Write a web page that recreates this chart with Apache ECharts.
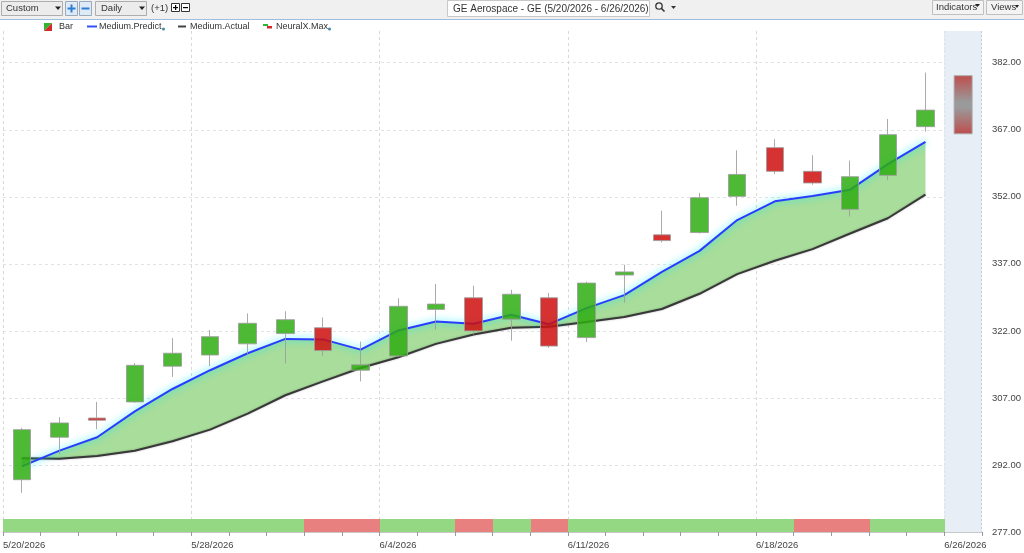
<!DOCTYPE html>
<html><head><meta charset="utf-8">
<script src="https://cdn.jsdelivr.net/npm/echarts@6/dist/echarts.min.js"></script>
<style>html,body{margin:0;padding:0;background:#fff}#c{width:1024px;height:553px}</style>
</head><body><div id="c"></div>
<script>
// ---------------- DATA ----------------
const dates = ['5/20/2026','5/21/2026','5/22/2026','5/26/2026','5/27/2026','5/28/2026','5/29/2026','6/1/2026','6/2/2026','6/3/2026','6/4/2026','6/5/2026','6/8/2026','6/9/2026','6/10/2026','6/11/2026','6/12/2026','6/15/2026','6/16/2026','6/17/2026','6/18/2026','6/22/2026','6/23/2026','6/24/2026','6/25/2026','6/26/2026'];
const weekLabels = ['5/20/2026','5/28/2026','6/4/2026','6/11/2026','6/18/2026','6/26/2026'];
const opens  = [288.7,298.2,302.5,306.1,314.1,316.6,319.1,321.4,322.7,313.2,316.4,326.8,329.4,324.6,329.4,320.5,334.5,343.5,344.0,352.1,363.0,357.7,349.2,356.8,367.7,null];
const closes = [299.9,301.4,302.0,314.3,317.0,320.7,323.7,324.5,317.6,314.4,327.5,328.0,322.0,330.2,318.6,332.7,335.2,342.2,351.8,357.0,357.7,355.1,356.5,365.9,371.4,null];
const lows   = [285.8,294.4,300.0,305.9,311.7,314.1,316.5,314.7,316.4,310.7,316.2,322.3,321.2,319.8,318.2,319.5,328.3,341.8,343.8,350.0,357.1,354.7,347.6,355.7,366.6,null];
const highs  = [300.3,302.7,306.1,314.8,320.4,322.2,325.9,326.4,325.0,319.6,329.3,332.5,332.1,331.2,330.5,333.0,336.8,348.9,352.9,362.4,364.9,361.3,360.1,369.4,379.8,null];
const predict = [291.7,295.2,298.2,304.0,309.0,313.2,317.0,320.2,320.1,317.8,322.1,324.1,323.6,325.6,323.5,327.1,330.0,335.2,339.9,346.8,351.0,352.2,353.6,359.3,364.3,null];
const actual  = [293.5,293.4,294.0,295.2,297.3,299.9,303.5,307.6,310.7,313.7,316.1,319.1,321.2,322.7,322.9,324.0,325.1,326.9,330.3,334.7,337.7,340.3,343.8,347.2,352.5,null];
const neuralMaxLow  = [null,null,null,null,null,null,null,null,null,null,null,null,null,null,null,null,null,null,null,null,null,null,null,null,null,366.1];
const neuralMaxHigh = [null,null,null,null,null,null,null,null,null,null,null,null,null,null,null,null,null,null,null,null,null,null,null,null,null,379.1];
const signal = ['up','up','up','up','up','up','up','up','down','down','up','up','down','up','down','up','up','up','up','up','up','down','down','up','up',null];
const forecastDates = ['6/26/2026'];
const yTicks = [277,292,307,322,337,352,367,382];
const yMax = 389.1;

// ---------------- STYLE ----------------
const FONT = 'Liberation Sans';
const TXT = '#333';
const GREEN = '#2ead10', RED = '#d00e0e';
const STRIP_UP = '#94d883', STRIP_DOWN = '#e88080';

const chart = echarts.init(document.getElementById('c'), null, {renderer:'canvas'});

const candleData = dates.map((d,i)=> opens[i]==null ? '-' : [opens[i],closes[i],lows[i],highs[i]]);
const diff = dates.map((d,i)=> predict[i]==null ? '-' : +(predict[i]-actual[i]).toFixed(2));
const stripData = [];
signal.forEach((s,i)=>{ if(s!=null) stripData.push([i, s==='up'?1:-1]); });
const neuralData = [];
dates.forEach((d,i)=>{ if(neuralMaxLow[i]!=null) neuralData.push([i, neuralMaxLow[i], neuralMaxHigh[i]]); });
const futureData = forecastDates.map(d => [dates.indexOf(d)]);
const isWeek = (idx, val) => weekLabels.indexOf(val) >= 0;

// toolbar & legend graphics
const g = [];
const t = (text, x, y, opt={}) => g.push({type:'text', x, y, silent:true, style:Object.assign({text, fill:TXT, fontFamily:FONT, fontSize:9.5, verticalAlign:'middle'}, opt)});
const r = (x,y,w,h,fill,stroke) => g.push({type:'rect', silent:true, shape:{x,y,width:w,height:h}, style:{fill, stroke, lineWidth:1}});
const tri = (x,y) => g.push({type:'polygon', silent:true, shape:{points:[[x,y],[x+6,y],[x+3,y+3.5]]}, style:{fill:'#222'}});
r(0,0,1024,19,'#f0f0f0',null);
g.push({type:'line', silent:true, shape:{x1:0,y1:19.5,x2:1024,y2:19.5}, style:{stroke:'#9cbfe0', lineWidth:1}});
r(1.5,1.5,61,14,'#ececec','#adadad'); t('Custom',6,8.5); tri(55,6.5);
r(65.5,1.5,12,14,'#dfeaf7','#9ab'); r(79.5,1.5,12,14,'#dfeaf7','#9ab');
g.push({type:'rect', silent:true, shape:{x:67.5,y:7.5,width:8,height:2}, style:{fill:'#2a7fd4'}});
g.push({type:'rect', silent:true, shape:{x:70.5,y:4.5,width:2,height:8}, style:{fill:'#2a7fd4'}});
g.push({type:'rect', silent:true, shape:{x:81.5,y:7.5,width:8,height:2}, style:{fill:'#2a7fd4'}});
r(95.5,1.5,51,14,'#ececec','#adadad'); t('Daily',101,8.5); tri(139,6.5);
t('(+1)',151,8.5);
r(171.5,3.5,8,8,'#fff','#333'); r(181.5,3.5,8,8,'#fff','#333');
g.push({type:'rect', silent:true, shape:{x:173,y:7,width:5,height:1.2}, style:{fill:'#000'}});
g.push({type:'rect', silent:true, shape:{x:175,y:5,width:1.2,height:5}, style:{fill:'#000'}});
g.push({type:'rect', silent:true, shape:{x:183,y:7,width:5,height:1.2}, style:{fill:'#000'}});
r(447.5,0.5,202,16,'#fff','#c8c8c8');
t('GE Aerospace - GE (5/20/2026 - 6/26/2026)',453,9,{fontSize:10});
g.push({type:'circle', silent:true, shape:{cx:659,cy:6,r:3.2}, style:{fill:'none', stroke:'#333', lineWidth:1.3}});
g.push({type:'line', silent:true, shape:{x1:661.5,y1:8.5,x2:664.5,y2:11.5}, style:{stroke:'#333', lineWidth:1.6}});
g.push({type:'polygon', silent:true, shape:{points:[[671,6],[676,6],[673.5,9]]}, style:{fill:'#333'}});
r(932.5,0.5,51,14,'#f3f3f3','#c0c0c0'); t('Indicators',936,7.5,{fontSize:9.5});
g.push({type:'polygon', silent:true, shape:{points:[[975,4],[980,4],[977.5,7]]}, style:{fill:'#222'}});
r(986.5,0.5,36,14,'#f3f3f3','#c0c0c0'); t('Views',991,7.5,{fontSize:9.5});
g.push({type:'polygon', silent:true, shape:{points:[[1015,5],[1019,5],[1017,8]]}, style:{fill:'#222'}});
// legend
g.push({type:'polygon', silent:true, shape:{points:[[44,23],[52,23],[44,31]]}, style:{fill:'#2fb52f'}});
g.push({type:'polygon', silent:true, shape:{points:[[52,23],[52,31],[44,31]]}, style:{fill:'#d62a2a'}});
t('Bar',59,27,{fontSize:9});
g.push({type:'line', silent:true, shape:{x1:87,y1:26.5,x2:97,y2:26.5}, style:{stroke:'#3350ff', lineWidth:2}});
t('Medium.Predict',99,27,{fontSize:9});
g.push({type:'circle', silent:true, shape:{cx:163.5,cy:29,r:1.6}, style:{fill:'#4a8fb0'}});
g.push({type:'line', silent:true, shape:{x1:178,y1:26.5,x2:186,y2:26.5}, style:{stroke:'#444', lineWidth:2}});
t('Medium.Actual',190,27,{fontSize:9});
g.push({type:'rect', silent:true, shape:{x:263,y:24,width:5,height:2}, style:{fill:'#2fb52f'}});
g.push({type:'rect', silent:true, shape:{x:267,y:26,width:5,height:2.5}, style:{fill:'#d62a2a'}});
t('NeuralX.Max',276,27,{fontSize:9});
g.push({type:'circle', silent:true, shape:{cx:329.5,cy:29,r:1.6}, style:{fill:'#4a8fb0'}});

const option = {
  animation:false,
  backgroundColor:'#fff',
  textStyle:{fontFamily:FONT},
  graphic:g,
  grid:[
    {left:2.7, right:41, top:31, bottom:21},
    {left:2.7, right:41, top:519, bottom:21}
  ],
  xAxis:[
    {type:'category', gridIndex:0, data:dates, boundaryGap:true,
     axisLine:{show:false}, axisTick:{show:false}, axisLabel:{show:false}, splitLine:{show:false}},
    {type:'category', gridIndex:0, data:dates.concat(['']), boundaryGap:false, position:'bottom',
     axisLine:{show:true, lineStyle:{color:'#c8c8c8'}},
     axisTick:{show:true, interval:0, length:4, lineStyle:{color:'#999'}},
     axisLabel:{show:true, interval:isWeek, align:'left', color:'#444', fontSize:9.5, margin:8, fontFamily:FONT},
     splitLine:{show:true, interval:isWeek, lineStyle:{color:'#d8d8d8', type:[3,3]}}},
    {type:'category', gridIndex:1, data:dates, boundaryGap:true, show:false}
  ],
  yAxis:[
    {type:'value', gridIndex:0, position:'right', min:yTicks[0], max:yMax, interval:yTicks[1]-yTicks[0],
     axisLine:{show:false}, axisTick:{show:false},
     axisLabel:{color:'#444', fontSize:9.5, margin:10, showMaxLabel:false, fontFamily:FONT,
       formatter:v => yTicks.indexOf(Math.round(v))>=0 ? v.toFixed(2) : ''},
     splitLine:{show:true, showMaxLine:false, lineStyle:{color:'#e2e2e2', type:[3,3]}}},
    {type:'value', gridIndex:1, min:0, max:1, show:false}
  ],
  series:[
    {type:'custom', name:'future', xAxisIndex:0, yAxisIndex:0, z:1, silent:true, data:futureData, encode:{x:0},
     renderItem:(params, api)=>{
       const cs = params.coordSys;
       const cx = api.coord([api.value(0), 300])[0];
       const w = api.size([1,0])[0];
       return {type:'group', children:[
         {type:'rect', shape:{x:cx-w/2, y:cs.y, width:w, height:cs.height}, style:{fill:'#e8eef6'}},
         {type:'line', shape:{x1:cx+w/2-0.5, y1:cs.y, x2:cx+w/2-0.5, y2:cs.y+cs.height}, style:{stroke:'#b8cde6', lineWidth:1, lineDash:[2,2]}},
         {type:'line', shape:{x1:cx-w/2+0.5, y1:cs.y, x2:cx-w/2+0.5, y2:cs.y+cs.height}, style:{stroke:'#d6e1ee', lineWidth:1, lineDash:[2,2]}}
       ]};
     }},
    {type:'line', name:'base', xAxisIndex:0, yAxisIndex:0, data:actual.map(v=>v==null?'-':v), stack:'band', stackStrategy:'all',
     symbol:'none', silent:true, lineStyle:{opacity:0}, z:2},
    {type:'line', name:'fill', xAxisIndex:0, yAxisIndex:0, data:diff, stack:'band', stackStrategy:'all',
     symbol:'none', silent:true, lineStyle:{opacity:0}, areaStyle:{color:'#a8dd9b', opacity:1}, z:2},
    {type:'line', name:'Medium.Actual', xAxisIndex:0, yAxisIndex:0, data:actual.map(v=>v==null?'-':v),
     symbol:'none', lineStyle:{color:'#383838', width:2, shadowColor:'rgba(0,0,0,0.3)', shadowBlur:2}, z:3},
    {type:'line', name:'Medium.Predict', xAxisIndex:0, yAxisIndex:0, data:predict.map(v=>v==null?'-':v),
     symbol:'none', lineStyle:{color:'#2b3cff', width:2, shadowColor:'rgba(0,235,255,0.9)', shadowBlur:7}, z:3},
    {type:'candlestick', name:'Bar', xAxisIndex:0, yAxisIndex:0, data:candleData, barWidth:18, z:5,
     itemStyle:{color:GREEN, color0:RED, borderColor:'#9c9c9c', borderColor0:'#9c9c9c', borderColorDoji:'#9c9c9c', borderWidth:1, opacity:0.85}},
    {type:'custom', name:'NeuralX.Max', xAxisIndex:0, yAxisIndex:0, data:neuralData, encode:{x:0, y:[1,2]}, z:5,
     renderItem:(params, api)=>{
       const lo = api.coord([api.value(0), api.value(1)]);
       const hi = api.coord([api.value(0), api.value(2)]);
       const w = 18;
       return {type:'rect', shape:{x:lo[0]-w/2, y:hi[1], width:w, height:lo[1]-hi[1]},
         style:{fill:new echarts.graphic.LinearGradient(0,0,0,1,[
           {offset:0,color:'#bf4c4c'},{offset:0.45,color:'#9a9a9a'},{offset:0.55,color:'#9a9a9a'},{offset:1,color:'#bf4c4c'}]),
           stroke:'#aaa', lineWidth:1}};
     }},
    {type:'custom', name:'signal', xAxisIndex:2, yAxisIndex:1, data:stripData, encode:{x:0}, z:4, silent:true,
     renderItem:(params, api)=>{
       const cs = params.coordSys;
       const cx = api.coord([api.value(0), 0])[0];
       const w = api.size([1,0])[0];
       const x0 = Math.round(cx - w/2), x1 = Math.round(cx + w/2);
       return {type:'rect', shape:{x:x0, y:cs.y, width:x1-x0, height:cs.height},
         style:{fill: api.value(1) > 0 ? STRIP_UP : STRIP_DOWN}};
     }}
  ]
};
chart.setOption(option);
</script>
</body></html>
